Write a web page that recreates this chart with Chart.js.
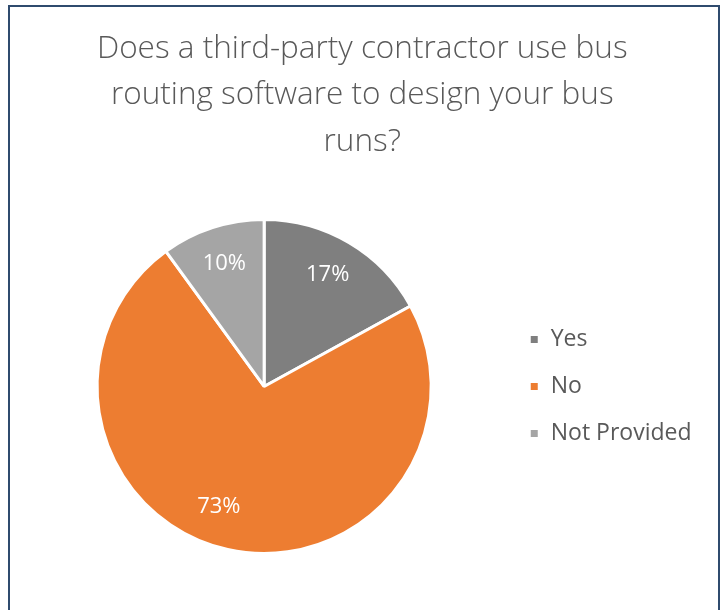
<!DOCTYPE html>
<html>
<head>
<meta charset="utf-8">
<script src="https://cdn.jsdelivr.net/npm/chart.js@4"></script>
<style>
  html, body { margin: 0; padding: 0; background: #ffffff; overflow: hidden; }
  #wrap { position: relative; width: 727px; height: 610px; }
  #frame {
    position: absolute; left: 8px; top: 5px; width: 712px; height: 700px;
    box-sizing: border-box; border: 2px solid #2f4b6e; border-bottom: none;
  }
  #chart { position: absolute; left: 0; top: 0; }
</style>
</head>
<body>
<div id="wrap">
  <div id="frame"></div>
  <canvas id="chart" width="727" height="610"></canvas>
</div>
<script>
// Survey answers and their shares (percent)
const categories = ['Yes', 'No', 'Not Provided'];
const shares = [17, 73, 10];
const sliceColors = ['#7f7f7f', '#ed7d31', '#a5a5a5'];
const titleLines = [
  'Does a third-party contractor use bus',
  'routing software to design your bus',
  'runs?'
];

const FONT = "'Open Sans', Lato, sans-serif";
const TEXT_GREY = '#595959';

// Writes each slice's percentage inside the slice
const sliceLabels = {
  id: 'sliceLabels',
  afterDatasetsDraw(chart, args, opts) {
    const ctx = chart.ctx;
    const meta = chart.getDatasetMeta(0);
    const data = chart.data.datasets[0].data;
    ctx.save();
    ctx.font = opts.fontSize + 'px ' + FONT;
    ctx.fillStyle = opts.color;
    ctx.textAlign = 'center';
    ctx.textBaseline = 'middle';
    meta.data.forEach((arc, i) => {
      const p = arc.getProps(['x', 'y', 'startAngle', 'endAngle', 'outerRadius'], true);
      const shift = (opts.angleShift[i] || 0) * Math.PI / 180;
      const a = (p.startAngle + p.endAngle) / 2 + shift;
      const r = p.outerRadius * opts.radiusFraction;
      ctx.fillText(data[i] + '%', p.x + Math.cos(a) * r, p.y + Math.sin(a) * r);
    });
    ctx.restore();
  }
};

new Chart(document.getElementById('chart'), {
  type: 'pie',
  data: {
    labels: categories,
    datasets: [{
      data: shares,
      backgroundColor: sliceColors,
      borderColor: '#ffffff',
      borderWidth: 3
    }]
  },
  options: {
    responsive: false,
    animation: false,
    layout: { padding: { left: 23, right: 25.5, top: 0, bottom: 55 } },
    plugins: {
      title: {
        display: true,
        text: titleLines,
        color: TEXT_GREY,
        font: { family: FONT, size: 31.5, weight: '300', lineHeight: 1.47 },
        padding: { top: 26, bottom: 53 }
      },
      legend: {
        position: 'right',
        fullSize: false,
        labels: {
          color: TEXT_GREY,
          font: { family: FONT, size: 23 },
          boxWidth: 10,
          boxHeight: 10,
          padding: 24
        }
      },
      tooltip: { enabled: false },
      sliceLabels: {
        fontSize: 22,
        color: '#ffffff',
        radiusFraction: 0.77,
        angleShift: [-1, 8, 0]
      }
    }
  },
  plugins: [sliceLabels]
});
</script>
</body>
</html>
